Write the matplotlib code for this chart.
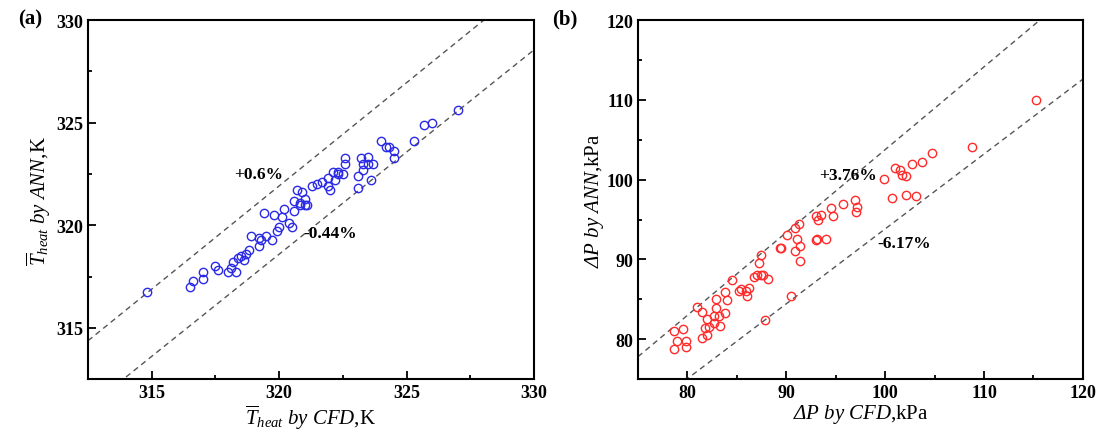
import matplotlib.pyplot as plt
import numpy as np
from matplotlib.ticker import MultipleLocator

plt.rcParams['font.family'] = ['Liberation Serif', 'DejaVu Serif']
plt.rcParams['mathtext.fontset'] = 'custom'
plt.rcParams['mathtext.rm'] = 'Liberation Serif'
plt.rcParams['mathtext.it'] = 'Liberation Serif:italic'
plt.rcParams['mathtext.bf'] = 'Liberation Serif:bold'
# used for an italic capital Delta (mathtext forces Greek capitals upright in 'it')
plt.rcParams['mathtext.sf'] = 'Liberation Serif:italic'

# (a) mean heating temperature, CFD vs ANN (K)
t_cfd = [314.8, 316.5, 316.6, 317.0, 317.0, 317.5, 317.6, 318.0, 318.1, 318.2,
         318.3, 318.4, 318.5, 318.6, 318.7, 318.8, 318.9, 319.2, 319.2, 319.3,
         319.4, 319.5, 319.7, 319.8, 319.9, 320.0, 320.1, 320.2, 320.4, 320.5,
         320.6, 320.6, 320.7, 320.8, 320.8, 320.9, 321.0, 321.0, 321.1, 321.3,
         321.5, 321.7, 321.9, 321.9, 322.0, 322.1, 322.2, 322.3, 322.3, 322.5,
         322.6, 322.6, 323.1, 323.1, 323.2, 323.3, 323.3, 323.5, 323.5, 323.6,
         323.7, 324.0, 324.2, 324.3, 324.5, 324.5, 325.3, 325.7, 326.0, 327.0]
t_ann = [316.75, 317.0, 317.3, 317.4, 317.7, 318.0, 317.8, 317.7, 317.9, 318.2,
         317.7, 318.4, 318.5, 318.3, 318.6, 318.8, 319.5, 319.0, 319.4, 319.3,
         320.6, 319.5, 319.3, 320.5, 319.7, 319.9, 320.4, 320.8, 320.1, 319.9,
         320.7, 321.2, 321.7, 321.1, 321.0, 321.6, 321.3, 321.0, 321.0, 321.9,
         322.0, 322.1, 322.3, 321.9, 321.7, 322.6, 322.2, 322.6, 322.5, 322.5,
         323.3, 323.0, 322.4, 321.8, 323.3, 323.0, 322.7, 323.35, 323.0, 322.2,
         323.0, 324.1, 323.8, 323.8, 323.6, 323.3, 324.1, 324.9, 325.0, 325.6]

# (b) pressure drop, CFD vs ANN (kPa)
p_cfd = [78.6, 79.6, 78.9, 79.9, 78.6, 79.9, 81.0, 81.5, 82.0, 81.8,
         81.5, 82.0, 82.2, 82.7, 83.2, 82.9, 82.9, 82.7, 83.3, 83.8,
         84.0, 83.8, 84.5, 85.2, 85.4, 85.9, 86.2, 86.0, 86.7, 87.0,
         87.4, 87.6, 88.1, 87.2, 87.4, 87.8, 89.4, 90.5, 90.9, 91.4,
         91.4, 93.0, 89.5, 90.1, 90.9, 91.3, 91.1, 93.1, 94.0, 93.0,
         93.2, 93.5, 94.5, 94.7, 95.7, 96.9, 97.2, 97.1, 99.9, 100.7,
         101.0, 101.5, 101.7, 102.1, 102.1, 102.7, 103.1, 103.7, 104.7, 108.8,
         115.3]
p_ann = [81.0, 81.25, 79.8, 79.8, 78.75, 79.0, 84.1, 83.4, 82.6, 81.4,
         80.1, 80.5, 81.5, 82.9, 82.9, 83.9, 85.1, 82.0, 81.7, 83.25,
         84.9, 85.9, 87.4, 86.1, 86.25, 86.1, 86.4, 85.4, 87.75, 88.0,
         88.1, 88.0, 87.6, 89.6, 90.5, 82.4, 91.4, 85.4, 91.1, 91.75,
         89.75, 92.5, 91.5, 93.1, 93.9, 94.4, 92.6, 92.6, 92.6, 95.5,
         94.9, 95.6, 96.4, 95.5, 96.9, 97.5, 96.6, 95.9, 100.1, 97.75,
         101.5, 101.25, 100.6, 100.4, 98.1, 102.0, 98.0, 102.25, 103.4, 104.1,
         110.0]

fig = plt.figure(figsize=(11.01, 4.39), dpi=100)
ax1 = fig.add_axes([0.080, 0.134, 0.405, 0.818])
ax2 = fig.add_axes([0.5795, 0.134, 0.404, 0.818])

dash_kw = dict(color='#555555', lw=1.0, dashes=(4, 3))
lbl_kw = dict(fontsize=15)
txt_kw = dict(fontsize=12.5, fontweight='bold', ha='center', va='center')


def style(ax, lo, hi, major, minor):
    ax.set_xlim(lo, hi)
    ax.set_ylim(lo, hi)
    ax.xaxis.set_major_locator(MultipleLocator(major))
    ax.yaxis.set_major_locator(MultipleLocator(major))
    ax.xaxis.set_minor_locator(MultipleLocator(minor))
    ax.yaxis.set_minor_locator(MultipleLocator(minor))
    ax.tick_params(which='both', direction='in', top=False, right=False,
                   width=1.3, labelsize=13)
    ax.tick_params(which='major', length=6)
    ax.tick_params(which='minor', length=3)
    for lab in ax.get_xticklabels() + ax.get_yticklabels():
        lab.set_fontweight('bold')
    for s in ax.spines.values():
        s.set_linewidth(1.5)


# panel (a)
xs = np.array([312.5, 330.0])
ax1.plot(xs, xs * 1.006, **dash_kw)
ax1.plot(xs, xs * (1 - 0.0044), **dash_kw)
ax1.plot(t_cfd, t_ann, 'o', mfc='none', mec='#2a2ae6', ms=6, mew=1.0)
style(ax1, 312.5, 330, 5, 2.5)
ax1.set_xlabel(r'$\overline{T}_{heat}\ by\ CFD$,K', labelpad=1, **lbl_kw)
ax1.set_ylabel(r'$\overline{T}_{heat}\ by\ ANN$,K', labelpad=2, **lbl_kw)
ax1.text(319.2, 322.5, '+0.6%', **txt_kw)
ax1.text(322.0, 319.6, '-0.44%', **txt_kw)

# panel (b)
xs = np.array([75.0, 120.0])
ax2.plot(xs, xs * 1.0376, **dash_kw)
ax2.plot(xs, xs * (1 - 0.0617), **dash_kw)
ax2.plot(p_cfd, p_ann, 'o', mfc='none', mec='#ff2a2a', ms=6, mew=1.0)
style(ax2, 75, 120, 10, 5)
ax2.set_xlabel(r'$\mathsf{\Delta}P\ by\ CFD$,kPa', labelpad=1, **lbl_kw)
ax2.set_ylabel(r'$\mathsf{\Delta}P\ by\ ANN$,kPa', labelpad=0, **lbl_kw)
ax2.text(96.2, 100.6, '+3.76%', **txt_kw)
ax2.text(101.9, 92.1, '-6.17%', **txt_kw)

fig.text(0.027, 0.955, '(a)', fontsize=15, fontweight='bold', ha='center', va='center')
fig.text(0.513, 0.955, '(b)', fontsize=15, fontweight='bold', ha='center', va='center')

fig.savefig('out.png', dpi=100)
